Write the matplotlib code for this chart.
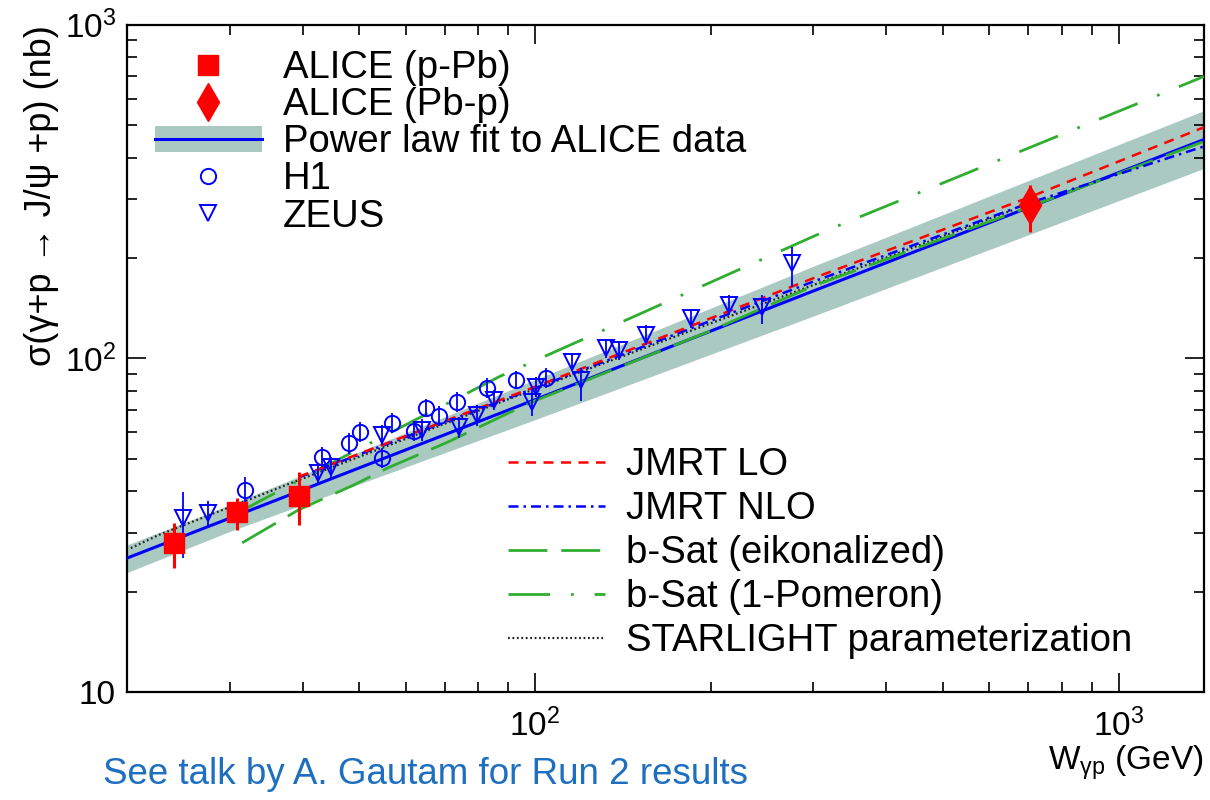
import matplotlib
matplotlib.use("Agg")
import matplotlib.pyplot as plt
import numpy as np
from matplotlib.lines import Line2D
from matplotlib.patches import Patch
from matplotlib.ticker import LogLocator, FuncFormatter, NullFormatter

plt.rcParams['font.family'] = ['Liberation Sans', 'DejaVu Sans']
plt.rcParams['mathtext.fontset'] = 'custom'
plt.rcParams['mathtext.rm'] = 'Liberation Sans'
plt.rcParams['mathtext.it'] = 'Liberation Sans:italic'
plt.rcParams['mathtext.bf'] = 'Liberation Sans:bold'

# ---------------- data ----------------
# ALICE p-Pb
alice_ppb_w = [24.1, 30.9, 39.4]
alice_ppb_s = [28.0, 34.7, 38.7]
alice_ppb_up = [4.1, 3.5, 7.0]
alice_ppb_dn = [4.5, 4.1, 7.0]
# ALICE Pb-p
alice_pbp_w = [706.0]
alice_pbp_s = [288.0]
alice_pbp_up = [43.0]
alice_pbp_dn = [49.0]

# H1
h1_w = [31.9, 43.2, 48.0, 50.1, 54.7, 56.9, 62.0, 65.0, 68.5, 73.5, 82.8, 92.8, 104.4]
h1_s = [40.4, 50.7, 55.8, 60.3, 50.3, 64.1, 60.5, 71.1, 67.3, 74.1, 81.7, 86.3, 87.5]
h1_err = [3.8, 3.5, 4.0, 4.0, 3.5, 4.5, 4.0, 4.5, 4.5, 5.0, 5.5, 5.5, 6.0]

# ZEUS
zeus_w = [24.9, 27.5, 42.4, 44.8, 54.7, 64.1, 74.2, 79.6, 85.1, 98.8, 100.4,
          115.7, 119.9, 132.3, 139.3, 154.9, 185.0, 214.8, 244.6, 275.6]
zeus_s = [33.3, 34.4, 45.4, 47.3, 59.0, 61.1, 62.4, 67.7, 75.2, 74.1, 82.2,
          97.7, 86.3, 107.5, 106.0, 117.5, 132.0, 144.5, 143.0, 193.0]
zeus_up = [6.5, 3.0, 3.0, 3.5, 4.0, 4.5, 4.5, 5.0, 5.0, 5.5, 5.5,
           6.0, 7.0, 7.0, 7.0, 8.0, 9.0, 10.0, 12.0, 22.0]
zeus_dn = [8.0, 3.0, 3.0, 3.5, 4.0, 4.5, 4.5, 5.0, 5.0, 7.0, 5.5,
           6.0, 12.0, 7.0, 7.0, 8.0, 9.0, 10.0, 16.0, 29.0]

# power law fit and its band
fit_w = [20.0, 30.0, 100.0, 300.0, 1400.0]
fit_s = [25.2, 33.2, 75.2, 159.3, 453.0]
band_lo = [22.8, 30.3, 65.5, 134.0, 371.0]
band_hi = [27.6, 36.4, 86.3, 189.0, 553.0]

# model curves
jmrt_lo_w = [39.4, 100.0, 300.0, 706.0, 1400.0]
jmrt_lo_s = [44.2, 82.2, 174.0, 305.0, 493.0]
jmrt_nlo_w = [39.4, 100.0, 300.0, 706.0, 1400.0]
jmrt_nlo_s = [44.0, 81.5, 170.0, 293.0, 432.0]
bsat_eik_w = [31.5, 39.4, 49.0, 56.0, 71.0, 98.0, 200.0, 300.0, 667.0, 1400.0]
bsat_eik_s = [28.0, 35.2, 41.8, 47.0, 56.2, 73.6, 121.0, 165.0, 275.0, 447.0]
bsat_pom_w = [31.0, 47.3, 86.8, 318.0, 1400.0]
bsat_pom_s = [34.5, 51.0, 88.1, 243.0, 700.0]
starlight_w = [20.3, 22.7, 39.4, 100.0, 300.0, 657.0]
starlight_s = [27.0, 29.6, 43.2, 81.0, 166.0, 278.0]

red = '#ff0000'
blue = '#0000ff'
green = '#2fae2f'
band_col = '#a9c9c1'

fig = plt.figure(figsize=(12.1, 8), dpi=100)
ax = fig.add_axes([0.105, 0.135, 0.89, 0.834])
ax.set_xscale('log')
ax.set_yscale('log')

ax.fill_between(fit_w, band_lo, band_hi, color=band_col, lw=0, zorder=1)
ax.plot(fit_w, fit_s, color=blue, lw=2.2, zorder=3)

ax.plot(starlight_w, starlight_s, color='#222222', lw=1.6, ls=(0, (0.8, 1.2)), zorder=3)
ax.plot(bsat_eik_w, bsat_eik_s, color=green, lw=2.0, ls=(0, (14, 5)), zorder=3)
ax.plot(bsat_pom_w, bsat_pom_s, color=green, lw=2.0, ls=(0, (15, 7.5, 1, 7.5)), zorder=3)
ax.plot(jmrt_nlo_w, jmrt_nlo_s, color=blue, lw=1.8, ls=(0, (4, 2, 1, 2)), zorder=3)
ax.plot(jmrt_lo_w, jmrt_lo_s, color=red, lw=1.8, ls=(0, (4, 3)), zorder=3)

ax.errorbar(h1_w, h1_s, yerr=h1_err, fmt='o', ms=11, mfc='none', mec=blue,
            mew=1.4, ecolor=blue, elinewidth=1.3, capsize=0, zorder=4)
ax.errorbar(zeus_w, zeus_s, yerr=[zeus_dn, zeus_up], fmt='v', ms=12, mfc='none',
            mec=blue, mew=1.4, ecolor=blue, elinewidth=1.3, capsize=0, zorder=4)
ax.errorbar(alice_ppb_w, alice_ppb_s, yerr=[alice_ppb_dn, alice_ppb_up], fmt='s',
            ms=14.5, color=red, ecolor=red, elinewidth=2.2, capsize=0, zorder=5)
ax.errorbar(alice_pbp_w, alice_pbp_s, yerr=[alice_pbp_dn, alice_pbp_up], fmt='d',
            ms=19, color=red, ecolor=red, elinewidth=2.2, capsize=0, zorder=5)

ax.set_xlim(20, 1400)
ax.set_ylim(10, 1000)


def log_fmt(v, pos):
    n = int(round(np.log10(v)))
    if n == 1:
        return '10'
    return r'$\mathregular{10^{%d}}$' % n


for axis in (ax.xaxis, ax.yaxis):
    axis.set_major_locator(LogLocator(base=10, numticks=10))
    axis.set_minor_locator(LogLocator(base=10, subs=np.arange(2, 10), numticks=20))
    axis.set_major_formatter(FuncFormatter(log_fmt))
    axis.set_minor_formatter(NullFormatter())

ax.tick_params(which='both', direction='in', top=True, right=True, labelsize=24, width=1.2)
ax.tick_params(which='major', length=14)
ax.tick_params(which='minor', length=7)
ax.tick_params(axis='x', pad=12)
ax.tick_params(axis='y', pad=8)
for sp in ax.spines.values():
    sp.set_linewidth(1.6)

ax.set_ylabel('σ(γ+p → J/ψ +p) (nb)', fontsize=26, loc='top', labelpad=4)
ax.set_xlabel(r'W$_{\mathregular{γp}}$ (GeV)', fontsize=24, loc='right', labelpad=0)

# legends
h_ppb = Line2D([], [], ls='none', marker='s', ms=14.5, color=red)
h_pbp = Line2D([], [], ls='none', marker='d', ms=19, color=red)
h_fit = (Patch(facecolor=band_col, edgecolor='none'), Line2D([], [], color=blue, lw=2.2))
h_h1 = Line2D([], [], ls='none', marker='o', ms=11, mfc='none', mec=blue, mew=1.4)
h_zeus = Line2D([], [], ls='none', marker='v', ms=12, mfc='none', mec=blue, mew=1.4)
leg1 = ax.legend([h_ppb, h_pbp, h_fit, h_h1, h_zeus],
                 ['ALICE (p-Pb)', 'ALICE (Pb-p)', 'Power law fit to ALICE data', 'H1', 'ZEUS'],
                 loc='upper left', bbox_to_anchor=(155 / 1210, 1 - 50 / 800),
                 bbox_transform=fig.transFigure, frameon=False, fontsize=27.5,
                 handlelength=2.8, handletextpad=0.55, labelspacing=0.03,
                 borderpad=0, borderaxespad=0)
ax.add_artist(leg1)

m_lo = Line2D([], [], color=red, lw=1.8, ls=(0, (4, 3)))
m_nlo = Line2D([], [], color=blue, lw=1.8, ls=(0, (4, 2, 1, 2)))
m_eik = Line2D([], [], color=green, lw=2.0, ls=(0, (14, 5)))
m_pom = Line2D([], [], color=green, lw=2.0, ls=(0, (15, 7.5, 1, 7.5)))
m_sl = Line2D([], [], color='#222222', lw=1.6, ls=(0, (0.8, 1.2)))
ax.legend([m_lo, m_nlo, m_eik, m_pom, m_sl],
          ['JMRT LO', 'JMRT NLO', 'b-Sat (eikonalized)', 'b-Sat (1-Pomeron)',
           'STARLIGHT parameterization'],
          loc='upper left', bbox_to_anchor=(508 / 1210, 1 - 447 / 800),
          bbox_transform=fig.transFigure, frameon=False, fontsize=27.5,
          handlelength=2.55, handletextpad=0.53, labelspacing=0.21,
          borderpad=0, borderaxespad=0)

fig.text(103 / 1210, 1 - 775 / 800, 'See talk by A. Gautam for Run 2 results',
         color='#1f6fc0', fontsize=26.5, va='center', ha='left')

fig.savefig('out.png', dpi=100)
